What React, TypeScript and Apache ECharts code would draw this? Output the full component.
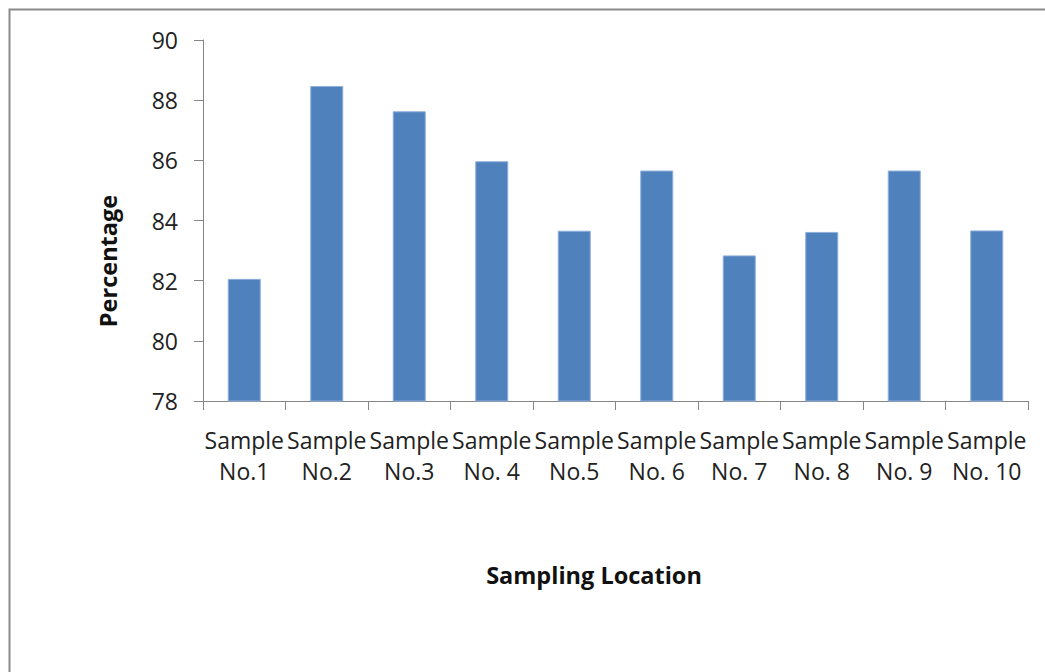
import React, { useEffect, useRef } from "react";
import * as echarts from "echarts";

// Sampling locations along the x axis
const categories = [
  "Sample\nNo.1",
  "Sample\nNo.2",
  "Sample\nNo.3",
  "Sample\nNo. 4",
  "Sample\nNo.5",
  "Sample\nNo. 6",
  "Sample\nNo. 7",
  "Sample\nNo. 8",
  "Sample\nNo. 9",
  "Sample\nNo. 10",
];

// Percentage measured at each location
const percentages = [82.06, 88.47, 87.63, 85.97, 83.66, 85.66, 82.84, 83.62, 85.66, 83.67];

// Value axis range
const yMin = 78;
const yMax = 90;
const yStep = 2;

const FONT = "'Open Sans', 'Noto Sans', sans-serif";

export default function App() {
  const ref = useRef<HTMLDivElement>(null);

  useEffect(() => {
    if (!ref.current) return;
    const chart = echarts.init(ref.current, undefined, { renderer: "svg" });
    chart.setOption({
      animation: false,
      backgroundColor: "#ffffff",
      grid: { left: 203, right: 17, top: 40, bottom: 271, containLabel: false },
      xAxis: {
        type: "category",
        data: categories,
        boundaryGap: true,
        axisLine: { show: true, lineStyle: { color: "#868686", width: 1 } },
        axisTick: { show: true, length: 9, lineStyle: { color: "#868686" } },
        axisLabel: {
          interval: 0,
          margin: 23,
          color: "#222222",
          fontFamily: FONT,
          fontSize: 23,
          lineHeight: 31,
        },
        splitLine: { show: false },
      },
      yAxis: {
        type: "value",
        min: yMin,
        max: yMax,
        interval: yStep,
        axisLine: { show: true, lineStyle: { color: "#868686", width: 1 } },
        axisTick: { show: true, length: 9, lineStyle: { color: "#868686" } },
        axisLabel: {
          margin: 25,
          color: "#222222",
          fontFamily: FONT,
          fontSize: 23,
        },
        splitLine: { show: false },
      },
      series: [
        {
          type: "bar",
          data: percentages,
          barWidth: "40%",
          itemStyle: {
            color: "#4f81bd",
            borderColor: "#8eaedb",
            borderWidth: 1,
          },
        },
      ],
      graphic: [
        {
          type: "rect",
          left: 7,
          top: 7,
          shape: { width: 1100, height: 700 },
          style: { fill: "none", stroke: "#8a8a8a", lineWidth: 2 },
          silent: true,
        },
        {
          type: "text",
          x: 108,
          y: 261,
          rotation: Math.PI / 2,
          style: {
            text: "Percentage",
            fontFamily: FONT,
            fontWeight: "bold",
            fontSize: 23.5,
            fill: "#111111",
            align: "center",
            verticalAlign: "middle",
          },
        },
        {
          type: "text",
          x: 594,
          y: 575,
          style: {
            text: "Sampling Location",
            fontFamily: FONT,
            fontWeight: "bold",
            fontSize: 23.5,
            fill: "#111111",
            align: "center",
            verticalAlign: "middle",
          },
        },
      ],
    });
    return () => chart.dispose();
  }, []);

  return (
    <div
      ref={ref}
      style={{ position: "absolute", left: 0, top: 0, width: 1045, height: 672 }}
    />
  );
}
